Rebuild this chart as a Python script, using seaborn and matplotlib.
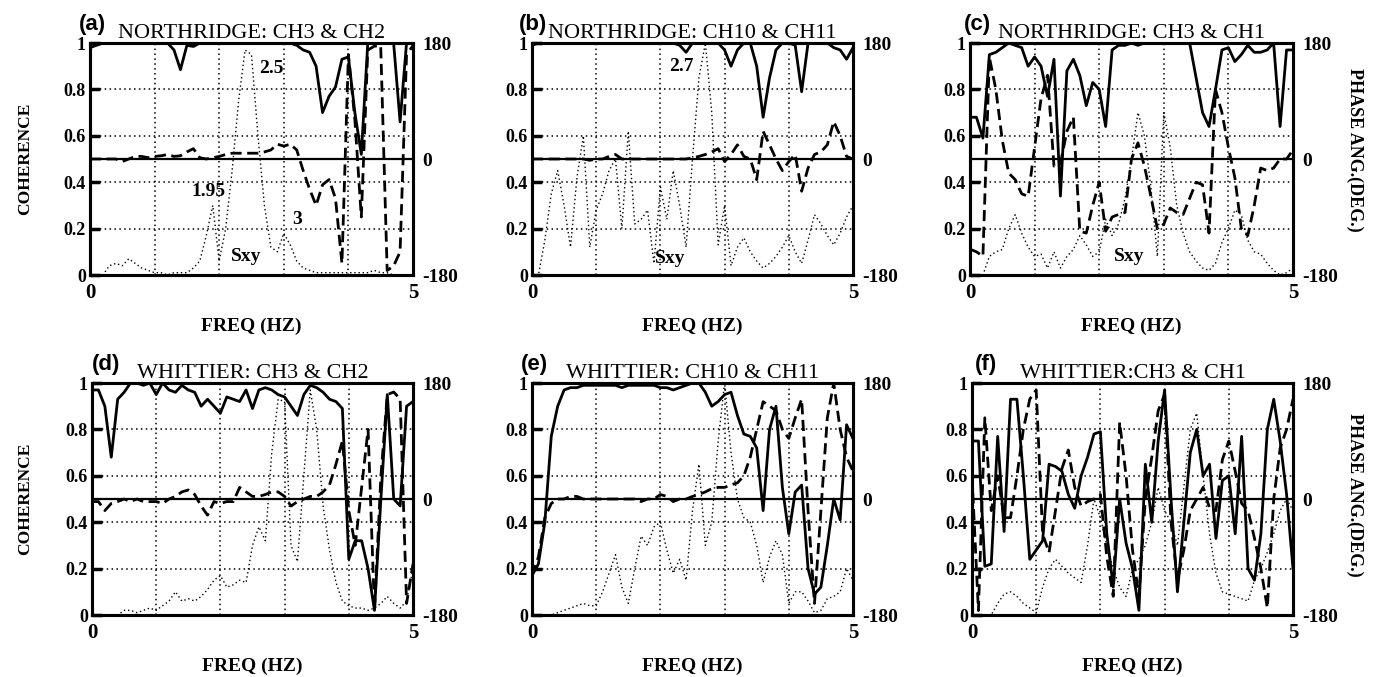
import matplotlib
matplotlib.use("Agg")
import matplotlib.pyplot as plt
import seaborn as sns

# ---------------- data ----------------
FREQ = [0.0, 0.1, 0.2, 0.3, 0.4, 0.5, 0.6, 0.7, 0.8, 0.9,
        1.0, 1.1, 1.2, 1.3, 1.4, 1.5, 1.6, 1.7, 1.8, 1.9,
        2.0, 2.1, 2.2, 2.3, 2.4, 2.5, 2.6, 2.7, 2.8, 2.9,
        3.0, 3.1, 3.2, 3.3, 3.4, 3.5, 3.6, 3.7, 3.8, 3.9,
        4.0, 4.1, 4.2, 4.3, 4.4, 4.5, 4.6, 4.7, 4.8, 4.9, 5.0]

TITLES = ["NORTHRIDGE: CH3 & CH2", "NORTHRIDGE: CH10 & CH11", "NORTHRIDGE: CH3 & CH1",
          "WHITTIER: CH3 & CH2", "WHITTIER: CH10 & CH11", "WHITTIER:CH3 & CH1"]
PANEL_LABELS = ["(a)", "(b)", "(c)", "(d)", "(e)", "(f)"]

# coherence (solid)
COH_A = [0.98, 0.99, 1, 1, 1, 1, 1, 1, 1, 1,
         1, 1, 1, 0.97, 0.885, 0.99, 0.985, 1, 1, 1,
         1, 1, 1, 1, 1, 1, 1, 1, 1, 1,
         1, 1, 0.99, 0.97, 0.96, 0.9, 0.7, 0.77, 0.81, 0.93,
         0.94, 0.7, 0.52, 1, 1, 1, 1, 1, 0.66, 1, 1]
COH_B = [0.99, 1, 1, 1, 1, 1, 1, 1, 1, 1,
         1, 1, 1, 1, 1, 1, 1, 1, 1, 1,
         1, 1, 1, 0.99, 0.96, 1, 1, 1, 1, 1,
         0.97, 0.9, 0.97, 1, 1, 0.9, 0.68, 0.85, 0.97, 1,
         1, 0.99, 0.79, 1, 1, 1, 1, 0.98, 0.97, 0.93, 0.98]
COH_C = [0.68, 0.68, 0.59, 0.95, 0.96, 0.98, 1.0, 0.99, 0.98, 0.9,
         0.94, 0.9, 0.77, 0.93, 0.34, 0.88, 0.93, 0.86, 0.73, 0.83,
         0.8, 0.64, 0.97, 0.99, 0.99, 1, 0.99, 1, 1, 1,
         1, 1, 1, 1, 1, 0.85, 0.7, 0.64, 0.8, 0.97,
         0.98, 0.92, 0.95, 0.99, 0.96, 0.96, 0.97, 1.0, 0.64, 0.97, 0.97]
COH_D = [0.97, 0.97, 0.9, 0.68, 0.93, 0.96, 1.0, 1.0, 0.99, 1.0,
         0.95, 1.0, 0.97, 0.96, 0.99, 0.97, 0.96, 0.9, 0.93, 0.9,
         0.87, 0.94, 0.93, 0.92, 0.97, 0.89, 0.97, 0.98, 0.97, 0.95,
         0.94, 0.9, 0.86, 0.95, 0.99, 0.98, 0.96, 0.93, 0.92, 0.89,
         0.24, 0.32, 0.32, 0.2, 0.02, 0.5, 0.95, 0.5, 0.47, 0.9, 0.92]
COH_E = [0.17, 0.22, 0.4, 0.77, 0.9, 0.97, 0.98, 0.98, 0.99, 0.99,
         0.99, 0.99, 0.99, 0.99, 0.98, 0.99, 0.99, 0.99, 0.99, 0.99,
         0.98, 0.98, 0.97, 0.98, 0.99, 1.0, 1.0, 0.96, 0.9, 0.92,
         0.95, 0.96, 0.86, 0.78, 0.77, 0.72, 0.45, 0.8, 0.9, 0.55,
         0.35, 0.53, 0.56, 0.2, 0.09, 0.12, 0.3, 0.5, 0.41, 0.82, 0.76]
COH_F = [0.75, 0.75, 0.21, 0.22, 0.77, 0.36, 0.93, 0.93, 0.6, 0.24,
         0.28, 0.32, 0.65, 0.64, 0.62, 0.52, 0.46, 0.6, 0.68, 0.78,
         0.79, 0.35, 0.12, 0.5, 0.31, 0.2, 0.02, 0.65, 0.4, 0.75,
         0.97, 0.5, 0.1, 0.4, 0.7, 0.8, 0.6, 0.65, 0.33, 0.58,
         0.6, 0.35, 0.77, 0.2, 0.15, 0.35, 0.8, 0.93, 0.75, 0.52, 0.2]

# phase angle in degrees (dashed)
PHA_A = [0, 0, 0, 0, 0, -4, 0, 4, 4, 2,
         4, 5, 7, 4, 5, 11, 16, 2, 0, 2,
         4, 7, 9, 9, 9, 9, 9, 11, 14, 23,
         20, 23, 14, -18, -47, -72, -40, -32, -61, -162,
         162, 61, -90, 169, 175, 176, -173, -166, -144, 162, 176]
PHA_B = [0, 0, 0, 0, 0, 0, 0, 0, 0, -2,
         0, 0, 4, 7, 0, 0, 0, 0, 0, 0,
         0, 0, 0, 0, 0, 2, 4, 7, 11, 16,
         -4, 7, 22, 4, 0, -32, 43, 22, 0, -18,
         -4, 7, -50, -14, 7, 11, 22, 58, 36, 4, 0]
PHA_C = [-140, -144, -151, 158, 108, 29, -22, -32, -54, -58,
         18, 94, 130, -11, -7, 43, 65, -112, -115, -72,
         -36, -112, -90, -86, -83, 0, 25, -11, -58, -108,
         -101, -76, -83, -86, -61, -36, -40, -115, 108, 72,
         18, -29, -108, -119, -72, -14, -18, -14, 0, 0, 14]
PHA_D = [-4, -4, -18, -7, -4, 0, -4, 0, -4, -4,
         -4, -7, 0, 4, 11, 14, 7, -11, -25, -4,
         -7, -4, -4, 18, 11, 4, 4, 7, 11, 11,
         4, -11, -4, 0, 4, 4, 11, 22, 54, 90,
         -18, -72, 18, 108, -173, 36, 162, 166, 155, -162, -101]
PHA_E = [-119, -90, -29, -7, 0, 0, 4, 4, 0, 0,
         0, 0, 0, 0, 0, 0, 0, -4, 0, 0,
         7, 4, -4, 0, 0, 4, 7, 11, 16, 18,
         18, 22, 25, 36, 65, 108, 151, 144, 137, 108,
         94, 126, 155, -18, -162, -18, 126, 180, 108, 65, 43]
PHA_F = [36, -173, 126, -18, 36, -29, -29, 36, 108, 155,
         169, -54, -83, -18, 47, 76, 18, -11, -4, 0,
         7, -90, -151, 119, 36, -79, -151, 0, 65, 137,
         162, -36, -126, -79, -18, 0, 18, -14, -18, 61,
         90, 43, -7, -18, -61, -108, -169, 0, 79, 108, 155]

# normalised cross spectrum Sxy (dotted)
SXY_A = [0, 0, 0, 0.04, 0.05, 0.04, 0.07, 0.05, 0.03, 0.02,
         0.01, 0.01, 0, 0.01, 0.01, 0.01, 0.03, 0.06, 0.17, 0.3,
         0.06, 0.2, 0.45, 0.75, 0.97, 0.95, 0.6, 0.3, 0.12, 0.1,
         0.18, 0.13, 0.06, 0.03, 0.02, 0.01, 0.01, 0.01, 0.01, 0.01,
         0.01, 0.01, 0.01, 0.01, 0.02, 0.01, 0.01, 0, 0, 0, 0]
SXY_B = [0, 0, 0.15, 0.35, 0.45, 0.3, 0.12, 0.42, 0.6, 0.12,
         0.28, 0.35, 0.45, 0.5, 0.2, 0.62, 0.22, 0.24, 0.28, 0.05,
         0.38, 0.24, 0.45, 0.3, 0.12, 0.5, 0.85, 1.0, 0.7, 0.13,
         0.3, 0.04, 0.12, 0.16, 0.1, 0.06, 0.03, 0.05, 0.08, 0.12,
         0.17, 0.1, 0.05, 0.15, 0.26, 0.22, 0.17, 0.13, 0.18, 0.25, 0.3]
SXY_C = [0, 0, 0, 0.08, 0.1, 0.11, 0.2, 0.26, 0.18, 0.12,
         0.08, 0.09, 0.03, 0.1, 0.03, 0.08, 0.11, 0.17, 0.13, 0.08,
         0.1, 0.24, 0.17, 0.22, 0.33, 0.5, 0.7, 0.6, 0.38, 0.08,
         0.7, 0.55, 0.3, 0.18, 0.1, 0.06, 0.03, 0.02, 0.05, 0.14,
         0.2, 0.28, 0.26, 0.15, 0.1, 0.09, 0.05, 0.02, 0, 0.01, 0.03]
SXY_D = [0, 0, 0, 0, 0, 0.02, 0.02, 0.01, 0.02, 0.03,
         0.02, 0.04, 0.06, 0.1, 0.06, 0.07, 0.06, 0.08, 0.11, 0.15,
         0.17, 0.12, 0.13, 0.15, 0.14, 0.3, 0.38, 0.32, 0.7, 0.93,
         0.92, 0.3, 0.23, 0.6, 0.97, 0.8, 0.47, 0.28, 0.14, 0.06,
         0.04, 0.03, 0.03, 0.02, 0.03, 0.05, 0.08, 0.05, 0.03, 0.06, 0.2]
SXY_E = [0, 0, 0, 0, 0.01, 0.02, 0.03, 0.04, 0.05, 0.04,
         0.04, 0.1, 0.18, 0.26, 0.12, 0.05, 0.2, 0.34, 0.3, 0.38,
         0.4, 0.28, 0.18, 0.24, 0.15, 0.45, 0.65, 0.3, 0.4, 0.75,
         1.0, 0.7, 0.5, 0.42, 0.4, 0.3, 0.14, 0.25, 0.32, 0.26,
         0.05, 0.1, 0.1, 0.06, 0.01, 0.02, 0.07, 0.08, 0.1, 0.2, 0.15]
SXY_F = [0, 0, 0, 0, 0.05, 0.09, 0.1, 0.08, 0.05, 0.03,
         0.01, 0.12, 0.2, 0.24, 0.21, 0.18, 0.16, 0.14, 0.3, 0.5,
         0.42, 0.3, 0.2, 0.12, 0.08, 0.2, 0.24, 0.3, 0.4, 0.55,
         0.45, 0.4, 0.3, 0.55, 0.8, 0.87, 0.6, 0.35, 0.18, 0.1,
         0.09, 0.08, 0.07, 0.06, 0.15, 0.2, 0.27, 0.35, 0.45, 0.5, 0.45]

COH = [COH_A, COH_B, COH_C, COH_D, COH_E, COH_F]
PHA = [PHA_A, PHA_B, PHA_C, PHA_D, PHA_E, PHA_F]
SXY = [SXY_A, SXY_B, SXY_C, SXY_D, SXY_E, SXY_F]

# peak annotations: (panel, text, freq, coherence-scale y)
ANNOT = [(0, "2.5", 2.81, 0.89), (0, "1.95", 1.83, 0.36), (0, "3", 3.2, 0.24),
         (0, "Sxy", 2.42, 0.08), (1, "2.7", 2.33, 0.90), (1, "Sxy", 2.15, 0.07),
         (2, "Sxy", 2.47, 0.08)]

XTICKS = [0, 1, 2, 3, 4, 5]
XTICKLABELS = ["0", "", "", "", "", "5"]
YTICKS = [0, 0.2, 0.4, 0.6, 0.8, 1.0]
YTICKLABELS = ["0", "0.2", "0.4", "0.6", "0.8", "1"]
PTICKS = [-180, 0, 180]
PTICKLABELS = ["-180", "0", "180"]

# ---------------- style ----------------
sns.set_style("white")
plt.rcParams["font.family"] = ["Liberation Serif", "DejaVu Serif"]
plt.rcParams["axes.linewidth"] = 2.2
plt.rcParams["axes.edgecolor"] = "black"
plt.rcParams["text.color"] = "black"
plt.rcParams["axes.labelcolor"] = "black"
plt.rcParams["xtick.color"] = "black"
plt.rcParams["ytick.color"] = "black"

W, H = 1373, 677
fig = plt.figure(figsize=(W / 100, H / 100), dpi=100)

# pixel boxes (left, top, right, bottom)
BOXES = [(90, 43, 413, 275), (532, 43, 853, 275), (970, 43, 1293, 275),
         (92, 383, 413, 615), (532, 383, 853, 615), (972, 383, 1293, 615)]
LABEL_X = [-0.035, -0.042, -0.02, 0.0, -0.035, 0.008]

for i in range(6):
    l, t, r, b = BOXES[i]
    ax = fig.add_axes([l / W, 1 - b / H, (r - l) / W, (b - t) / H])
    ax.set_xlim(0, 5)
    ax.set_ylim(0, 1)
    ax.set_axisbelow(True)
    ax.grid(True, color="black", linestyle=(0, (1, 2.2)), linewidth=1.1)
    ax.set_xticks(XTICKS)
    ax.set_xticklabels(XTICKLABELS, fontsize=15, fontweight="bold")
    ax.set_yticks(YTICKS)
    ax.set_yticklabels(YTICKLABELS, fontsize=13, fontweight="bold")
    ax.tick_params(axis="x", length=0, pad=6)
    ax.tick_params(axis="y", left=False, right=True, direction="in",
                   length=7, width=2.5, pad=3)

    # 0-degree phase reference line
    ax.axhline(0.5, color="black", linewidth=1.6, zorder=2)

    sns.lineplot(x=FREQ, y=SXY[i], ax=ax, color="black", linewidth=1.0,
                 linestyle=(0, (1, 2)), zorder=3)
    sns.lineplot(x=FREQ, y=COH[i], ax=ax, color="black", linewidth=2.0,
                 zorder=4)

    ax2 = ax.twinx()
    ax2.set_ylim(-180, 180)
    sns.lineplot(x=FREQ, y=PHA[i], ax=ax2, color="black", linewidth=2.0,
                 linestyle=(0, (4, 2)))
    ax2.set_yticks(PTICKS)
    ax2.set_yticklabels(PTICKLABELS, fontsize=14, fontweight="bold")
    ax2.tick_params(axis="y", length=0, pad=7)
    ax2.set_ylabel("")
    for sp in ax2.spines.values():
        sp.set_linewidth(2.2)

    ax.set_title(TITLES[i], fontsize=16, pad=0)
    ax.text(LABEL_X[i], 1.035, PANEL_LABELS[i], transform=ax.transAxes,
            ha="left", va="bottom", fontsize=16, fontweight="bold",
            family="Liberation Sans")
    ax.set_xlabel("FREQ (HZ)", fontsize=14, fontweight="bold", labelpad=10)
    ax.set_ylabel("")

for (p, txt, fx, fy) in ANNOT:
    ax = fig.axes[2 * p]
    ax.text(fx, fy, txt, ha="center", va="center", fontsize=14,
            fontweight="bold", zorder=6)

# side labels
fig.text(25 / W, 1 - 159 / H, "COHERENCE", rotation=90, ha="center",
         va="center", fontsize=12.5, fontweight="bold")
fig.text(25 / W, 1 - 499 / H, "COHERENCE", rotation=90, ha="center",
         va="center", fontsize=12.5, fontweight="bold")
fig.text(1355 / W, 1 - 150 / H, "PHASE ANG.(DEG.)", rotation=270, ha="center",
         va="center", fontsize=13, fontweight="bold")
fig.text(1355 / W, 1 - 495 / H, "PHASE ANG.(DEG.)", rotation=270, ha="center",
         va="center", fontsize=13, fontweight="bold")

fig.savefig("out.png", dpi=100)
